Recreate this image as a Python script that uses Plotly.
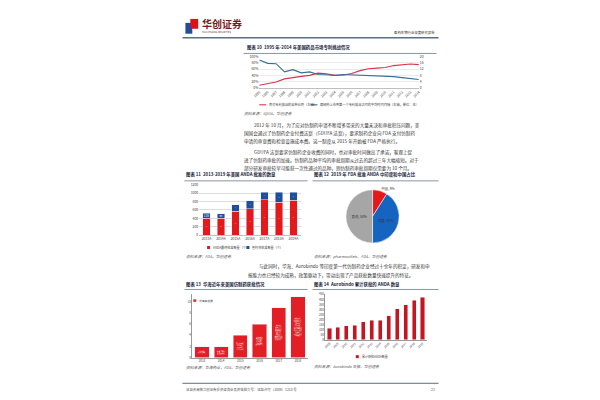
import plotly.graph_objects as go

W, H = 600, 400
FONT = "Noto Sans CJK SC"


def X(p):
    return p / W


def Y(p):
    return 1 - p / H


# ---------------- data ----------------
years10 = [str(y) for y in range(1995, 2015)]
challenge_share = [0.09, 0.13, 0.19, 0.29, 0.34, 0.37, 0.40, 0.47, 0.45, 0.40,
                   0.41, 0.46, 0.55, 0.61, 0.63, 0.65, 0.71, 0.74, 0.76, 0.74]
time_to_challenge = [17.8, 15.6, 15.4, 10.2, 11.6, 9.6, 10.2, 8.6, 8.4, 8.0,
                     8.6, 8.4, 8.0, 7.8, 7.8, 7.6, 7.2, 6.6, 6.0, 5.4]

years11 = ["2013A", "2014A", "2015A", "2016A", "2017A", "2018A", "2019A"]
anda_final = [409, 409, 565, 630, 843, 781, 835]
anda_tentative = [116, 96, 160, 185, 177, 239, 185]

pie_labels = ["中国", "印度", "其他"]
pie_values = [9, 41, 50]

years13 = ["2013", "2014", "2015", "2016", "2017", "2018"]
huahai_counts = [2, 2, 4, 6, 9, 11]
huahai_drugs = [
    ["坎地沙坦酯片", "厄贝沙坦氢氯噻嗪片"],
    ["拉莫三嗪片", "多奈哌齐片"],
    ["奥美沙坦酯片", "利培酮片", "厄贝沙坦片", "左乙拉西坦片"],
    ["阿立哌唑片", "塞来昔布胶囊", "普拉克索片", "罗匹尼罗片", "孟鲁司特钠片", "艾司西酞普兰片"],
    ["缬沙坦片", "恩替卡韦片", "帕罗西汀片", "氯吡格雷片", "奥氮平片", "喹硫平片",
     "瑞舒伐他汀片", "度洛西汀胶囊", "赖诺普利片"],
    ["替米沙坦片", "阿托伐他汀片", "氨氯地平片", "卡维地洛片", "美托洛尔片", "二甲双胍片",
     "奥美拉唑胶囊", "文拉法辛胶囊", "舍曲林片", "加巴喷丁胶囊", "托吡酯片"],
]

years14 = [str(y) for y in range(2008, 2020)]
aurobindo_cum = [114, 125, 140, 145, 180, 195, 196, 240, 310, 350, 390, 420]

RED10, BLUE10 = "#d9344f", "#3c6d93"
RED11, BLUE11 = "#e3191c", "#1f4e9a"
RED12, BLUE12, GRAY12 = "#e3191c", "#1565c0", "#a6a6a6"
RED13 = "#e31e24"
RED14 = "#c8141f"

fig = go.Figure()

# chart 10
fig.add_trace(go.Scatter(x=years10, y=challenge_share, mode="lines",
                         line=dict(color=RED10, width=1.1), xaxis="x", yaxis="y",
                         name="面对专利挑战的品种比例（左轴）", showlegend=False))
fig.add_trace(go.Scatter(x=years10, y=time_to_challenge, mode="lines",
                         line=dict(color=BLUE10, width=1.1), xaxis="x", yaxis="y2",
                         name="原研药上市到第一个专利挑战之间的平均时间间隔（右轴，单位：年）",
                         showlegend=False))

# chart 11
fig.add_trace(go.Bar(x=years11, y=anda_final, marker_color=RED11, width=0.5,
                     text=anda_final, textposition="inside", insidetextanchor="middle",
                     textangle=0, textfont=dict(size=3.2, color="white"),
                     xaxis="x3", yaxis="y3", showlegend=False, name="ANDA最终批准数量（个）"))
fig.add_trace(go.Bar(x=years11, y=anda_tentative, marker_color=BLUE11, width=0.5,
                     text=anda_tentative, textposition="inside", insidetextanchor="middle",
                     textangle=0, textfont=dict(size=3.2, color="white"),
                     xaxis="x3", yaxis="y3", showlegend=False, name="暂时性批准数量（个）"))

# chart 12
fig.add_trace(go.Pie(labels=pie_labels, values=pie_values, sort=False, direction="clockwise",
                     rotation=0, marker=dict(colors=[RED12, BLUE12, GRAY12],
                                             line=dict(color="white", width=0.5)),
                     texttemplate="%{label}, %{value}%", textposition=["outside", "inside", "inside"],
                     textfont=dict(size=3.4, color="#333"), insidetextorientation="horizontal",
                     domain=dict(x=[X(336), X(390)], y=[Y(235), Y(181)]), showlegend=False, hole=0))

# chart 13
fig.add_trace(go.Bar(x=years13, y=huahai_counts, marker_color=RED13, width=0.74,
                     text=["<br>".join(d) for d in huahai_drugs], textposition="inside",
                     insidetextanchor="middle", textangle=0,
                     textfont=dict(size=2.6, color="white"),
                     xaxis="x4", yaxis="y4", showlegend=False, name="华海获批数"))

# chart 14
fig.add_trace(go.Bar(x=years14, y=aurobindo_cum, marker_color=RED14, width=0.48,
                     xaxis="x5", yaxis="y5", showlegend=False, name="累计获批ANDA数量"))

tick = dict(size=3.4, color="#444", family=FONT)

layout = dict(
    width=W, height=H, margin=dict(l=0, r=0, t=0, b=0, pad=0),
    paper_bgcolor="white", plot_bgcolor="white", font=dict(family=FONT),
    barmode="stack",
    xaxis=dict(domain=[X(248), X(410)], anchor="y", type="category", tickangle=-45,
               tickfont=tick, showgrid=False, showline=True, linecolor="#bfbfbf",
               linewidth=0.5, ticks=""),
    yaxis=dict(domain=[Y(78), Y(46)], anchor="x", range=[0, 1], dtick=0.2, tickformat=".0%",
               tickfont=tick, gridcolor="#ececec", gridwidth=0.5, zeroline=False),
    yaxis2=dict(anchor="x", overlaying="y", side="right", range=[0, 20], dtick=4,
                tickfont=tick, showgrid=False, zeroline=False),
    xaxis3=dict(domain=[X(187), X(290)], anchor="y3", type="category", tickfont=tick,
                showgrid=False, showline=True, linecolor="#bfbfbf", linewidth=0.5, ticks=""),
    yaxis3=dict(domain=[Y(227), Y(176)], anchor="x3", range=[0, 1200], dtick=200,
                tickfont=tick, gridcolor="#dcdcdc", gridwidth=0.5, zeroline=False),
    xaxis4=dict(domain=[X(180), X(297)], anchor="y4", type="category", tickfont=dict(size=3, color="#444", family=FONT),
                showgrid=False, showline=True, linecolor="#999", linewidth=0.5, ticks=""),
    yaxis4=dict(domain=[Y(351), Y(287)], anchor="x4", range=[0, 11.4], dtick=2,
                tickfont=dict(size=3, color="#444", family=FONT), showgrid=False,
                showline=True, linecolor="#999", linewidth=0.5, zeroline=False),
    xaxis5=dict(domain=[X(315), X(418)], anchor="y5", type="category", tickangle=-45,
                tickfont=dict(size=3, color="#444", family=FONT), showgrid=False,
                showline=True, linecolor="#999", linewidth=0.5, ticks=""),
    yaxis5=dict(domain=[Y(333), Y(287)], anchor="x5", range=[0, 450], dtick=50,
                tickfont=dict(size=3, color="#444", family=FONT), showgrid=False,
                showline=True, linecolor="#999", linewidth=0.5, zeroline=False),
)
fig.update_layout(**layout)

ann = []


def txt(x, y, s, size=4.6, color="#222", anchor="left"):
    ann.append(dict(x=X(x), y=Y(y), xref="paper", yref="paper", text=s, showarrow=False,
                    xanchor=anchor, yanchor="middle", font=dict(size=size, color=color, family=FONT)))


shapes = []


def hline(x0, x1, y, color="#5c6f82", width=1.0):
    shapes.append(dict(type="line", xref="paper", yref="paper", x0=X(x0), x1=X(x1),
                       y0=Y(y), y1=Y(y), line=dict(color=color, width=width)))


def rect(x0, y0, x1, y1, color):
    shapes.append(dict(type="rect", xref="paper", yref="paper", x0=X(x0), x1=X(x1),
                       y0=Y(y1), y1=Y(y0), fillcolor=color, line=dict(width=0)))


# header
rect(173, 12, 180, 23, "#1d4f9c")
rect(178, 8, 186, 18, "#d7141a")
txt(188, 13, "<b>华创证券</b>", size=10, color="#7a1a1a")
txt(188, 21, "HUA CHUANG SECURITIES", size=2.4, color="#444")
txt(428, 22, "医药生物行业深度研究报告", size=3.4, color="#333", anchor="right")
hline(170, 430, 27, width=1.5)

# chart 10 title
TITLE_C = "#1b2640"
txt(234, 37, "<b>图表 10  1995 年-2014 年美国药品市场专利挑战情况</b>", size=4.4, color=TITLE_C)
hline(232, 428, 43, color="#6b7a8f", width=0.8)

# chart 10 legend
shapes.append(dict(type="line", xref="paper", yref="paper", x0=X(248), x1=X(255), y0=Y(95), y1=Y(95),
                   line=dict(color=RED10, width=1.1)))
txt(256, 95, "面对专利挑战的品种比例（左轴）", size=3.2, color="#444")
shapes.append(dict(type="line", xref="paper", yref="paper", x0=X(300), x1=X(307), y0=Y(95), y1=Y(95),
                   line=dict(color=BLUE10, width=1.1)))
txt(308, 95, "原研药上市到第一个专利挑战之间的平均时间间隔（右轴，单位：年）", size=3.2, color="#444")
txt(230, 104, "<i>资料来源：IQVIA，华创证券</i>", size=3.8, color="#555")

# paragraphs
PC = "#333"
txt(241, 116, "2012 年 10 月，为了应对仿制药申请不断增多带来的大量未决和审批积压问题，美", size=4.6, color=PC)
txt(230, 124, "国国会通过了仿制药企业付费法案（GDUFA 法案），要求制药企业向 FDA 支付仿制药", size=4.6, color=PC)
txt(230, 132, "申请的审查费和检查设施成本费。这一制度从 2015 年开始被 FDA 严格执行。", size=4.6, color=PC)
txt(241, 143, "GDUFA 法案要求仿制药企业收费的同时，也对审批时间做出了承诺，客观上促", size=4.6, color=PC)
txt(230, 151, "进了仿制药审批的加速。仿制药品种平均的审批周期从过去的超过三年大幅缩短。对于", size=4.6, color=PC)
txt(230, 159, "部分研发审批较早可能获一次性通过的品种，则仿制药审批周期仅需要为 10 个月。", size=4.6, color=PC)

# chart 11 / 12 titles
txt(172, 166, "<b>图表 11  2013-2019 年美国 ANDA 批准的数量</b>", size=4.4, color=TITLE_C)
hline(172, 297, 172, color="#6b7a8f", width=0.8)
txt(302, 166, "<b>图表 12  2019 年 FDA 批准 ANDA 中印度和中国占比</b>", size=4.4, color=TITLE_C)
hline(302, 430, 172, color="#6b7a8f", width=0.8)

# chart 11 legend and source
rect(195, 238, 198, 241, RED11)
txt(199, 239.5, "ANDA最终批准数量（个）", size=3.1, color="#444")
rect(235, 238, 238, 241, BLUE11)
txt(239, 239.5, "暂时性批准数量（个）", size=3.1, color="#444")
txt(172, 249, "<i>资料来源：FDA，华创证券</i>", size=3.8, color="#555")
txt(302, 249, "<i>资料来源：pharmoutlets、FDA，华创证券</i>", size=3.8, color="#555")

# paragraph 3
txt(246, 259, "与此同时，华海、Aurobindo 等印度第一代仿制药企业经过十余年的积淀，研发和申", size=4.6, color=PC)
txt(235, 268, "报能力也已经较为成熟，政策驱动下，带动出现了产品获批数量快速提升的特征。", size=4.6, color=PC)

# chart 13 / 14 titles
txt(172, 277, "<b>图表 13  华海近年来美国仿制药获批情况</b>", size=4.4, color=TITLE_C)
hline(172, 297, 282, color="#6b7a8f", width=0.8)
txt(302, 277, "<b>图表 14  Aurobindo 累计获批的 ANDA 数量</b>", size=4.4, color=TITLE_C)
hline(302, 430, 282, color="#6b7a8f", width=0.8)

# chart 13 legend and source
rect(181, 292, 184, 294.5, RED13)
txt(185, 293.2, "华海获批数", size=2.8, color="#444")
txt(172, 361, "<i>资料来源：华海药业，FDA，华创证券</i>", size=3.8, color="#555")

# chart 14 legend and source
rect(346, 348.5, 349, 351.5, RED14)
txt(350, 350, "累计获批ANDA数量", size=3.0, color="#444")
txt(302, 360, "<i>资料来源：Aurobindo 年报，华创证券</i>", size=3.8, color="#555")

# footer
hline(170, 430, 377, width=1.0)
txt(172, 383, "证监会审核华创证券投资咨询业务资格批文号：证监许可（2009）1210 号", size=3.4, color="#555")
txt(428, 383, "22", size=3.6, color="#555", anchor="right")

fig.update_layout(annotations=ann, shapes=shapes)
fig.write_html("out.html")
